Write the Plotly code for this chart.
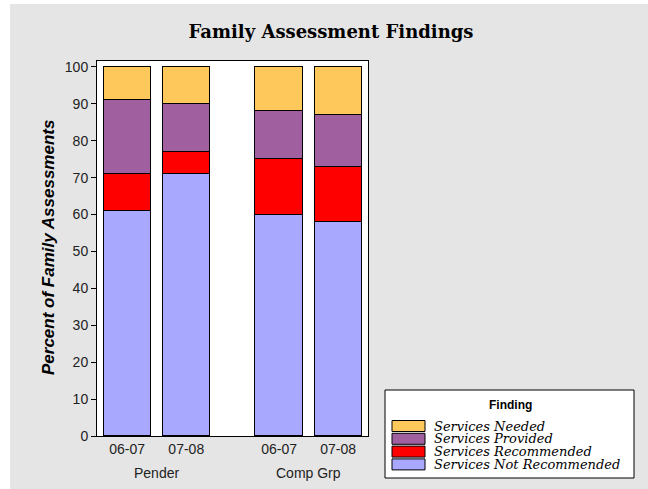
import plotly.graph_objects as go

# ---- data ----
groups = ["Pender", "Pender", "Comp Grp", "Comp Grp"]
years = ["06-07", "07-08", "06-07", "07-08"]
series_names = ["Services Not Recommended", "Services Recommended", "Services Provided", "Services Needed"]
not_recommended = [61, 71, 60, 58]
recommended = [10, 6, 15, 15]
provided = [20, 13, 13, 14]
needed = [9, 10, 12, 13]
y_ticks = [0, 10, 20, 30, 40, 50, 60, 70, 80, 90, 100]

colors = ["#a8a8ff", "#ff0000", "#a060a0", "#ffc85a"]
values = [not_recommended, recommended, provided, needed]

# positions: index within bars plus an extra gap between groups
group_order = []
for g in groups:
    if g not in group_order:
        group_order.append(g)
GAP = 0.57
xpos = [i + GAP * group_order.index(g) for i, g in enumerate(groups)]

# page offset of the figure (body margin) and figure size
OX, OY = 10, 4
W, H = 648 - OX, 489 - OY
PLOT_L, PLOT_R, PLOT_T, PLOT_B = 97, 368, 61, 436  # page pixels
L = PLOT_L - OX
T = PLOT_T - OY
R = W - (PLOT_R - OX)
B = H - (PLOT_B - OY)
PW, PH = PLOT_R - PLOT_L, PLOT_B - PLOT_T


def px_x(p):
    return (p - PLOT_L) / PW


def px_y(p):
    return (PLOT_B - p) / PH


fig = go.Figure()
for name, vals, col in zip(series_names, values, colors):
    fig.add_trace(go.Bar(
        x=xpos, y=vals, name=name, width=0.8,
        marker=dict(color=col, line=dict(color="black", width=1)),
        showlegend=False,
    ))

annotations = []
shapes = []

# group labels
for g in group_order:
    xs = [x for x, gg in zip(xpos, groups) if gg == g]
    annotations.append(dict(
        x=sum(xs) / len(xs), xref="x", y=px_y(473), yref="paper",
        text=g, showarrow=False, yanchor="middle",
        font=dict(family="Liberation Sans, Arial", size=14, color="#222"),
    ))

# y axis title
annotations.append(dict(
    x=px_x(48), xref="paper", y=px_y(248), yref="paper",
    text="<b><i>Percent of Family Assessments</i></b>", textangle=-90,
    showarrow=False, xanchor="center", yanchor="middle",
    font=dict(family="Liberation Sans, Arial", size=17, color="black"),
))

# manual legend
shapes.append(dict(type="rect", xref="paper", yref="paper",
                   x0=px_x(385), x1=px_x(634), y0=px_y(478), y1=px_y(390),
                   fillcolor="white", line=dict(color="black", width=1)))
annotations.append(dict(
    x=px_x(510), xref="paper", y=px_y(405), yref="paper",
    text="<b>Finding</b>", showarrow=False, xanchor="center", yanchor="middle",
    font=dict(family="Liberation Sans, Arial", size=12, color="black"),
))
row_centers = [426, 438.8, 451.6, 464.4]
for rc, name, col in zip(row_centers, series_names[::-1], colors[::-1]):
    shapes.append(dict(type="rect", xref="paper", yref="paper",
                       x0=px_x(392), x1=px_x(425), y0=px_y(rc + 5.5), y1=px_y(rc - 5.5),
                       fillcolor=col, line=dict(color="black", width=1)))
    annotations.append(dict(
        x=px_x(432), xref="paper", y=px_y(rc), yref="paper",
        text="<i>" + name + "</i>", showarrow=False, xanchor="left", yanchor="middle",
        font=dict(family="DejaVu Serif", size=13, color="black"),
    ))

fig.update_layout(
    width=W, height=H,
    margin=dict(l=L, r=R, t=T, b=B),
    paper_bgcolor="#e5e5e5",
    plot_bgcolor="white",
    barmode="stack",
    bargap=0,
    title=dict(text="<b>Family Assessment Findings</b>", x=(331 - OX) / W, xanchor="center",
               y=1 - (32 - OY) / H, yanchor="middle",
               font=dict(family="DejaVu Serif", size=18, color="black")),
    xaxis=dict(range=[-0.51, 4.074], tickvals=xpos, ticktext=years,
               showgrid=False, zeroline=False, showline=True, mirror=True,
               linecolor="black", linewidth=1, ticks="",
               tickfont=dict(family="Liberation Sans, Arial", size=14, color="#222")),
    yaxis=dict(range=[0, 101.6], tickvals=y_ticks, showgrid=False, zeroline=False,
               showline=True, mirror=True, linecolor="black", linewidth=1,
               ticks="outside", ticklen=5, tickcolor="black",
               tickfont=dict(family="Liberation Sans, Arial", size=14, color="#222")),
    shapes=shapes,
    annotations=annotations,
    showlegend=False,
)

fig.write_html("out.html", post_script="document.body.style.margin='%dpx 0 0 %dpx';" % (OY, OX))
